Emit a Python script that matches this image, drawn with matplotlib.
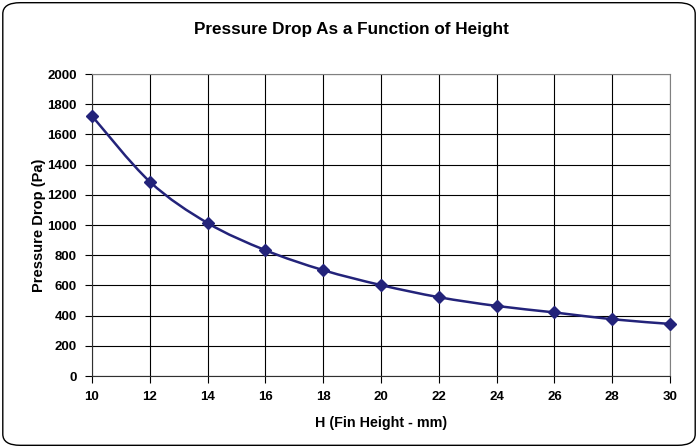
import numpy as np
import matplotlib.pyplot as plt
from matplotlib.patches import FancyBboxPatch, PathPatch
from matplotlib.path import Path

# Data
fin_height = [10, 12, 14, 16, 18, 20, 22, 24, 26, 28, 30]
pressure_drop = [1722, 1287, 1013, 833, 701, 602, 522, 464, 421, 376, 345]
y_ticks = list(range(0, 2001, 200))

NAVY = "#23237a"

plt.rcParams["font.family"] = ["Liberation Sans", "DejaVu Sans"]
plt.rcParams["font.weight"] = "bold"


def smooth_path(xs, ys, tension=1 / 6):
    """Bezier path through the points, like an Excel smoothed line."""
    xs = np.asarray(xs, float)
    ys = np.asarray(ys, float)
    pts = np.column_stack([xs, ys])
    verts = [pts[0]]
    codes = [Path.MOVETO]
    n = len(pts)
    for i in range(n - 1):
        p0 = pts[max(i - 1, 0)]
        p1 = pts[i]
        p2 = pts[i + 1]
        p3 = pts[min(i + 2, n - 1)]
        c1 = p1 + (p2 - p0) * tension
        c2 = p2 - (p3 - p1) * tension
        verts += [c1, c2, p2]
        codes += [Path.CURVE4] * 3
    return Path(verts, codes)


fig = plt.figure(figsize=(6.98, 4.48), dpi=100)
border = FancyBboxPatch((0.004, 0.006), 0.992, 0.988, transform=fig.transFigure,
                        boxstyle="round,pad=0,rounding_size=0.025",
                        facecolor="none", edgecolor="black", linewidth=1.0,
                        zorder=10)
fig.patches.append(border)

ax = fig.add_axes([0.1318, 0.1607, 0.8282, 0.6741])
ax.set_facecolor("white")

ax.add_patch(PathPatch(smooth_path(fin_height, pressure_drop), facecolor="none",
                       edgecolor=NAVY, linewidth=1.8, zorder=3))
ax.plot(fin_height, pressure_drop, linestyle="none", marker="D", markersize=6,
        color=NAVY, zorder=4, clip_on=False)

ax.set_xlim(10, 30)
ax.set_ylim(0, 2000)
ax.set_xticks(fin_height)
ax.set_yticks(y_ticks)
ax.grid(True, color="black", linewidth=0.8)
ax.set_axisbelow(True)
for s in ax.spines.values():
    s.set_color("#808080")
    s.set_linewidth(0.8)
ax.spines["left"].set_color("#303030")
ax.spines["bottom"].set_color("#303030")
ax.tick_params(direction="out", length=5, width=0.8, labelsize=9.5)
ax.tick_params(axis="x", pad=6)
ax.tick_params(axis="y", pad=6)

ax.set_xlabel("H (Fin Height - mm)", fontsize=10.3, fontweight="bold", labelpad=9)
ax.set_ylabel("Pressure Drop (Pa)", fontsize=10.5, fontweight="bold", labelpad=1)
fig.text(0.503, 0.935, "Pressure Drop As a Function of Height",
         ha="center", va="center", fontsize=12.3, fontweight="bold")

fig.savefig("out.png", dpi=100)
